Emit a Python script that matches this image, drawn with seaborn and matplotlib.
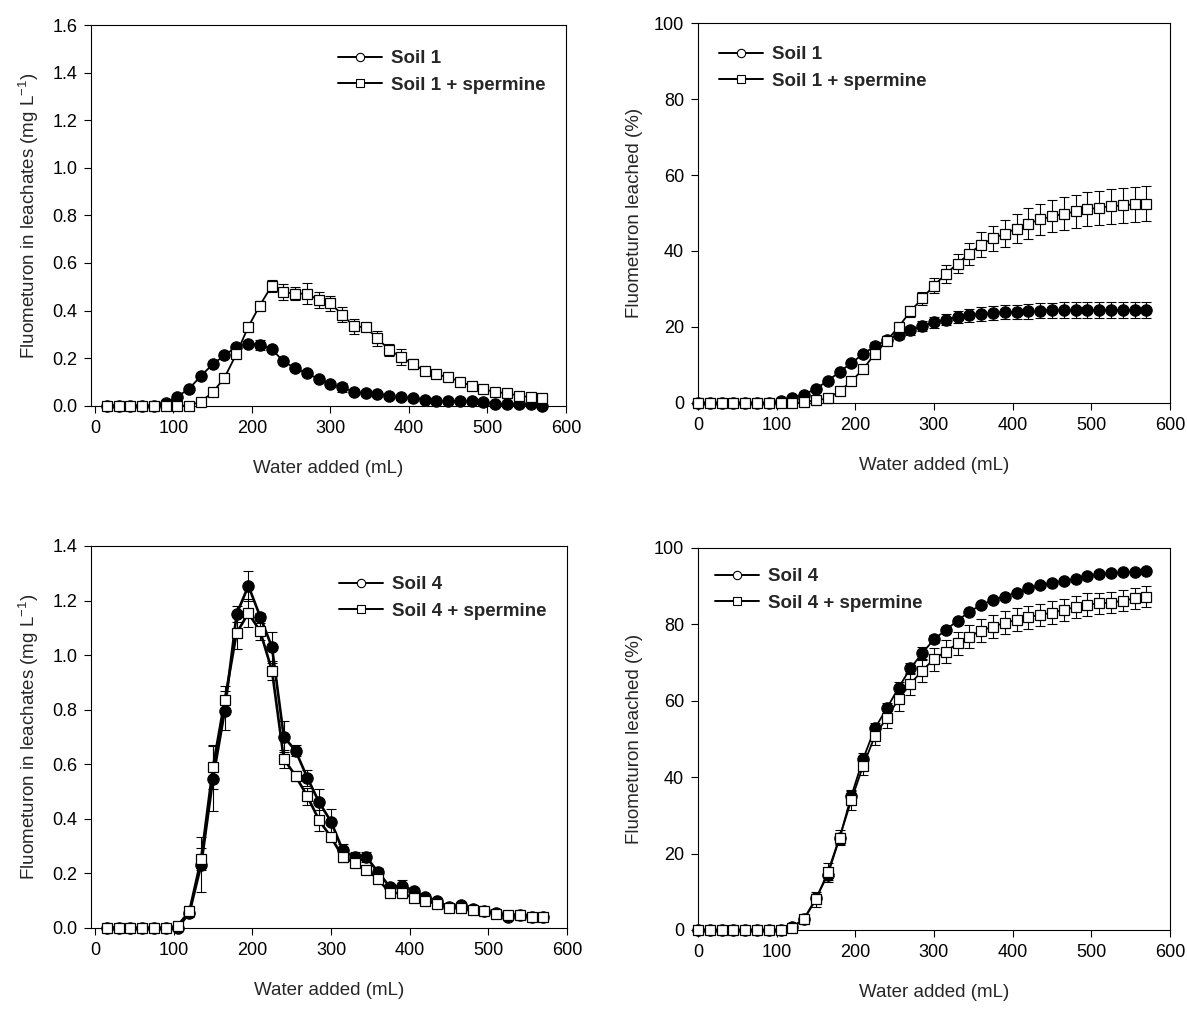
import seaborn as sns
import numpy as np
from matplotlib import pyplot as plt, ticker
from matplotlib.lines import Line2D

# water added (mL): leachate fractions and cumulative (with origin)
water_leach = [15, 30, 45, 60, 75, 90, 105, 120, 135, 150, 165, 180, 195, 210, 225, 240, 255, 270, 285,
               300, 315, 330, 345, 360, 375, 390, 405, 420, 435, 450, 465, 480, 495, 510, 525, 540, 555, 570]
water_cum = [0] + water_leach

# soil 1, concentration in leachates (mg/L)
s1_conc = [0, 0, 0, 0, 0, 0.013, 0.038, 0.071, 0.125, 0.174, 0.211, 0.247, 0.26, 0.256, 0.238, 0.187,
           0.157, 0.136, 0.112, 0.090, 0.077, 0.058, 0.052, 0.049, 0.042, 0.035, 0.034, 0.025, 0.02, 0.02,
           0.02, 0.02, 0.014, 0.008, 0.008, 0.008, 0.006, 0.0]
s1_conc_err = [0, 0, 0, 0, 0, 0.005, 0.005, 0.006, 0.008, 0.008, 0.01, 0.01, 0.012, 0.02, 0.01, 0.01,
               0.012, 0.01, 0.01, 0.012, 0.018, 0.01, 0.012, 0.008, 0.008, 0.006, 0.006, 0.005, 0.005,
               0.005, 0.005, 0.004, 0.004, 0.004, 0.004, 0.004, 0.004, 0.004]
s1sp_conc = [0, 0, 0, 0, 0, 0, 0, 0, 0.017, 0.056, 0.117, 0.216, 0.329, 0.421, 0.503, 0.477, 0.471,
             0.471, 0.444, 0.430, 0.383, 0.334, 0.329, 0.283, 0.234, 0.205, 0.175, 0.147, 0.132, 0.119,
             0.101, 0.083, 0.069, 0.057, 0.052, 0.042, 0.035, 0.031]
s1sp_conc_err = [0, 0, 0, 0, 0, 0, 0, 0, 0.005, 0.008, 0.01, 0.01, 0.01, 0.02, 0.025, 0.034, 0.026,
                 0.043, 0.032, 0.033, 0.031, 0.032, 0.008, 0.032, 0.025, 0.033, 0.02, 0.012, 0.01, 0.008,
                 0.008, 0.008, 0.008, 0.008, 0.008, 0.01, 0.012, 0.015]

# soil 1, cumulative leached (%)
s1_cum = [0, 0, 0, 0, 0, 0, 0, 0.5, 1.2, 2.2, 3.8, 5.8, 8.2, 10.5, 12.9, 15.0, 16.5, 18.0, 19.1, 20.3,
          21.2, 21.9, 22.6, 23.1, 23.5, 23.7, 23.9, 24.0, 24.1, 24.3, 24.4, 24.4, 24.5, 24.5, 24.5, 24.5,
          24.5, 24.5, 24.5]
s1_cum_err = [0, 0, 0, 0, 0, 0, 0, 0.2, 0.3, 0.4, 0.5, 0.6, 0.7, 0.8, 0.9, 1.0, 1.0, 1.1, 1.2, 1.3, 1.4,
              1.5, 1.6, 1.7, 1.8, 1.8, 1.9, 1.9, 2.0, 2.0, 2.0, 2.1, 2.1, 2.1, 2.1, 2.1, 2.1, 2.1, 2.1]
s1sp_cum = [0, 0, 0, 0, 0, 0, 0, 0, 0, 0.3, 0.7, 1.2, 3.1, 5.7, 8.9, 13.0, 16.4, 20.0, 24.1, 27.5, 30.9,
            33.9, 36.7, 39.3, 41.7, 43.3, 44.6, 45.9, 47.2, 48.3, 49.1, 49.8, 50.4, 51.0, 51.4, 51.8,
            52.0, 52.3, 52.5]
s1sp_cum_err = [0, 0, 0, 0, 0, 0, 0, 0, 0, 0.1, 0.2, 0.4, 0.5, 0.6, 0.7, 0.8, 0.9, 1.0, 1.4, 1.8, 2.0,
                2.3, 2.6, 2.9, 3.2, 3.4, 3.6, 3.8, 4.0, 4.1, 4.2, 4.3, 4.4, 4.5, 4.5, 4.6, 4.6, 4.6, 4.6]

# soil 4, concentration in leachates (mg/L)
s4_conc = [0, 0, 0, 0, 0, 0, 0, 0.055, 0.232, 0.547, 0.797, 1.150, 1.254, 1.141, 1.029, 0.701, 0.649,
           0.550, 0.460, 0.390, 0.284, 0.260, 0.260, 0.204, 0.150, 0.155, 0.137, 0.114, 0.098, 0.077,
           0.085, 0.070, 0.061, 0.055, 0.040, 0.049, 0.042, 0.040]
s4_conc_err = [0, 0, 0, 0, 0, 0, 0, 0.01, 0.1, 0.12, 0.07, 0.03, 0.055, 0.015, 0.057, 0.056, 0.02, 0.03,
               0.05, 0.045, 0.025, 0.02, 0.02, 0.015, 0.012, 0.02, 0.01, 0.008, 0.008, 0.006, 0.006,
               0.005, 0.005, 0.005, 0.005, 0.004, 0.004, 0.004]
s4sp_conc = [0, 0, 0, 0, 0, 0, 0.008, 0.061, 0.254, 0.590, 0.836, 1.081, 1.154, 1.087, 0.943, 0.620,
             0.557, 0.482, 0.394, 0.333, 0.260, 0.238, 0.214, 0.179, 0.128, 0.128, 0.110, 0.098, 0.089,
             0.073, 0.073, 0.067, 0.061, 0.052, 0.049, 0.049, 0.042, 0.040]
s4sp_conc_err = [0, 0, 0, 0, 0, 0, 0.003, 0.02, 0.04, 0.08, 0.05, 0.06, 0.05, 0.03, 0.034, 0.034, 0.02,
                 0.03, 0.04, 0.015, 0.02, 0.012, 0.01, 0.01, 0.01, 0.01, 0.008, 0.008, 0.006, 0.006,
                 0.006, 0.005, 0.005, 0.005, 0.005, 0.004, 0.004, 0.004]

# soil 4, cumulative leached (%)
s4_cum = [0, 0, 0, 0, 0, 0, 0, 0, 0.8, 3.0, 8.3, 14.4, 24.0, 35.1, 44.8, 52.8, 58.0, 63.4, 68.5, 72.4,
          76.1, 78.5, 81.0, 83.3, 85.1, 86.4, 87.3, 88.3, 89.4, 90.3, 90.8, 91.4, 91.9, 92.7, 93.1, 93.4,
          93.6, 93.8, 94.0]
s4_cum_err = [0, 0, 0, 0, 0, 0, 0, 0, 0.3, 0.5, 1.0, 1.2, 1.5, 1.5, 1.5, 1.5, 1.5, 1.5, 1.5, 1.8, 1.0,
              0.6, 0.6, 0.5, 0.5, 0.5, 0.5, 0.5, 0.5, 0.5, 0.5, 0.5, 0.5, 0.5, 0.5, 0.5, 0.5, 0.5, 0.5]
s4sp_cum = [0, 0, 0, 0, 0, 0, 0, 0, 0.6, 2.8, 8.0, 15.1, 24.2, 34.0, 43.0, 50.8, 55.6, 60.4, 64.4, 67.9,
            70.9, 72.9, 75.0, 76.8, 78.4, 79.4, 80.4, 81.2, 81.9, 82.5, 83.1, 83.8, 84.5, 85.2, 85.5,
            85.7, 86.2, 86.8, 87.3]
s4sp_cum_err = [0, 0, 0, 0, 0, 0, 0, 0, 0.5, 1.0, 2.0, 2.5, 2.0, 2.5, 2.5, 2.5, 2.7, 3.0, 3.0, 3.0, 3.0,
                3.0, 3.0, 3.0, 3.0, 3.0, 3.0, 3.0, 3.0, 2.9, 2.9, 2.9, 2.9, 2.9, 2.8, 2.8, 2.8, 2.8, 2.8]

sns.set_style('ticks')
plt.rcParams['font.family'] = ['Liberation Sans', 'DejaVu Sans']
plt.rcParams['mathtext.default'] = 'regular'

font_tick = 13
font_label = 13.5
font_leg = {'size': 13.5, 'weight': 'bold'}


def draw_panel(ax, x, y1, e1, y2, e2, lw=1.3):
    ax.errorbar(x, y1, yerr=e1, fmt='none', ecolor='black', elinewidth=0.8,
                capsize=3.6, capthick=0.8, zorder=2, clip_on=False)
    sns.lineplot(x=x, y=y1, ax=ax, color='black', linewidth=lw, marker='o', markersize=8.2,
                 markerfacecolor='black', markeredgecolor='black', markeredgewidth=0.8,
                 zorder=3, clip_on=False)
    ax.errorbar(x, y2, yerr=e2, fmt='none', ecolor='black', elinewidth=0.8,
                capsize=3.6, capthick=0.8, zorder=4, clip_on=False)
    sns.lineplot(x=x, y=y2, ax=ax, color='black', linewidth=lw, marker='s', markersize=7.5,
                 markerfacecolor='white', markeredgecolor='black', markeredgewidth=0.9,
                 zorder=5, clip_on=False)


def style_axes(ax, xlim, ymax, ystep, ylabel, fmt):
    ax.set_xlim(*xlim)
    ax.set_ylim(0, ymax)
    ax.set_xticks(np.arange(0, 601, 100))
    ax.set_yticks(np.arange(0, ymax + ystep / 2, ystep))
    ax.yaxis.set_major_formatter(ticker.FormatStrFormatter(fmt))
    ax.tick_params(direction='out', length=5, width=0.8, labelsize=font_tick, pad=5,
                   top=False, right=False, colors='black')
    for sp in ax.spines.values():
        sp.set_visible(True)
        sp.set_linewidth(0.8)
        sp.set_color('black')
    ax.set_xlabel('Water added (mL)', fontsize=font_label, labelpad=17)
    ax.set_ylabel(ylabel, fontsize=font_label, labelpad=8)


def add_legend(ax, labels, anchor):
    handles = [
        Line2D([], [], color='black', linewidth=1.4, marker='o', markersize=6,
               markerfacecolor='white', markeredgecolor='black', markeredgewidth=0.8),
        Line2D([], [], color='black', linewidth=1.4, marker='s', markersize=5.5,
               markerfacecolor='white', markeredgecolor='black', markeredgewidth=0.8),
    ]
    ax.legend(handles, labels, loc='upper left', bbox_to_anchor=anchor, frameon=False,
              prop=font_leg, handlelength=2.35, handletextpad=0.5, labelspacing=0.5,
              borderpad=0, borderaxespad=0)


fig = plt.figure(figsize=(11.87, 10.09), dpi=100)
ax_tl = fig.add_axes([0.0767, 0.598, 0.400, 0.377])
ax_tr = fig.add_axes([0.588, 0.6006, 0.3976, 0.3766])
ax_bl = fig.add_axes([0.0767, 0.0803, 0.401, 0.3786])
ax_br = fig.add_axes([0.588, 0.0783, 0.3976, 0.3786])

conc_label = 'Fluometuron in leachates (mg L$^{-1}$)'
cum_label = 'Fluometuron leached (%)'

draw_panel(ax_tl, water_leach, s1_conc, s1_conc_err, s1sp_conc, s1sp_conc_err)
style_axes(ax_tl, (-5, 600), 1.6, 0.2, conc_label, '%.1f')
add_legend(ax_tl, ['Soil 1', 'Soil 1 + spermine'], (0.52, 0.935))

draw_panel(ax_tr, water_cum, s1_cum, s1_cum_err, s1sp_cum, s1sp_cum_err)
style_axes(ax_tr, (0, 600), 100, 20, cum_label, '%d')
add_legend(ax_tr, ['Soil 1', 'Soil 1 + spermine'], (0.044, 0.939))

draw_panel(ax_bl, water_leach, s4_conc, s4_conc_err, s4sp_conc, s4sp_conc_err, lw=1.9)
style_axes(ax_bl, (-5, 600), 1.4, 0.2, conc_label, '%.1f')
add_legend(ax_bl, ['Soil 4', 'Soil 4 + spermine'], (0.52, 0.921))

draw_panel(ax_br, water_cum, s4_cum, s4_cum_err, s4sp_cum, s4sp_cum_err)
style_axes(ax_br, (0, 600), 100, 20, cum_label, '%d')
add_legend(ax_br, ['Soil 4', 'Soil 4 + spermine'], (0.036, 0.947))

fig.savefig('out.png', dpi=100)
